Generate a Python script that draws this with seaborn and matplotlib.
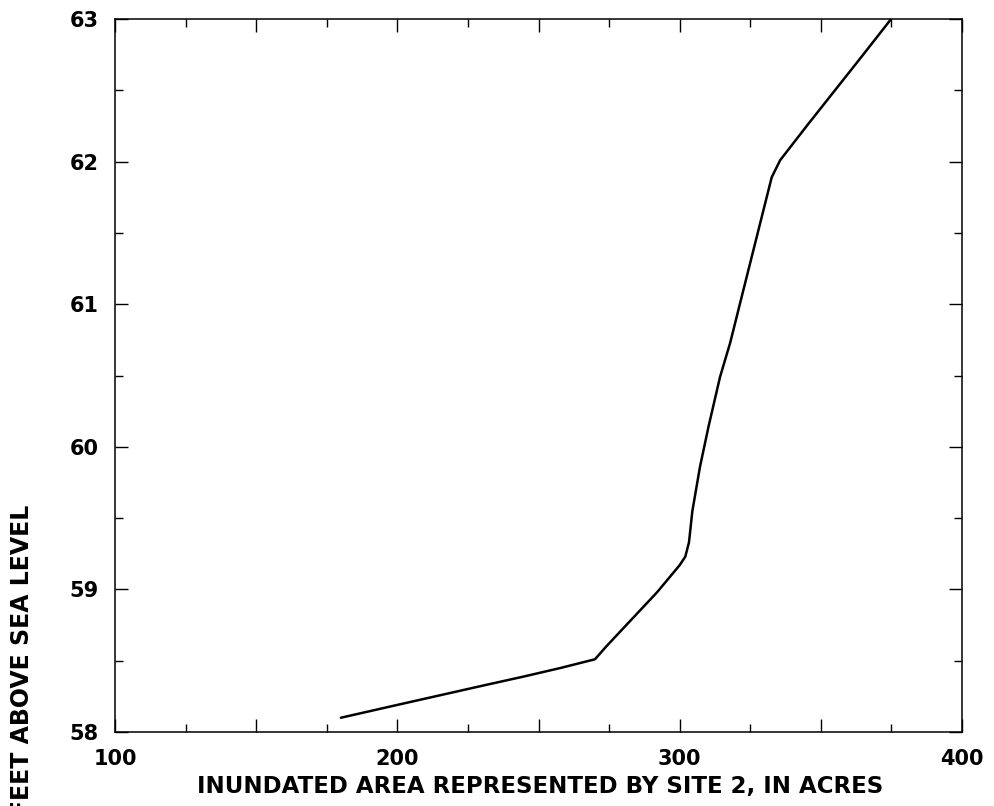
import matplotlib
matplotlib.use('Agg')
import matplotlib.pyplot as plt
import matplotlib.ticker as mticker
import seaborn as sns
import pandas as pd

# inundated area (acres) vs stage (feet above sea level)
area_acres = [180, 190, 200, 215, 230, 245, 258, 266, 270, 274, 283, 292, 300,
              302, 303.3, 304.5, 307.2, 310.2, 314.3, 317.9, 320.8, 326, 332.6,
              335.6, 345, 355, 365, 374.9]
stage_ft = [58.10, 58.145, 58.19, 58.257, 58.324, 58.39, 58.45, 58.49, 58.51, 58.6,
            58.79, 58.98, 59.17, 59.23, 59.33, 59.55, 59.86, 60.14, 60.49, 60.73,
            60.96, 61.37, 61.89, 62.01, 62.25, 62.5, 62.75, 63.0]

x_labels = [100, 200, 300, 400]
x_label = 'INUNDATED AREA REPRESENTED BY SITE 2, IN ACRES'
y_label = 'ELEVATION, IN FEET ABOVE SEA LEVEL'

df = pd.DataFrame({'area': area_acres, 'stage': stage_ft})

sns.set_style('ticks')
plt.rcParams['font.family'] = ['DejaVu Sans']
plt.rcParams['text.color'] = 'black'
plt.rcParams['xtick.color'] = 'black'
plt.rcParams['ytick.color'] = 'black'

fig = plt.figure(figsize=(9.94, 8.06), dpi=100)
ax = fig.add_axes([115 / 994, 1 - 732 / 806, (962 - 115) / 994, (732 - 19) / 806])

sns.lineplot(data=df, x='area', y='stage', sort=False, estimator=None,
             color='black', linewidth=1.8, ax=ax)

ax.set_xlim(100, 400)
ax.set_ylim(58, 63)
ax.xaxis.set_major_locator(mticker.MultipleLocator(50))
ax.xaxis.set_minor_locator(mticker.MultipleLocator(25))
ax.xaxis.set_major_formatter(mticker.FuncFormatter(
    lambda v, p: f'{int(v)}' if int(round(v)) in x_labels else ''))
ax.yaxis.set_major_locator(mticker.MultipleLocator(1))
ax.yaxis.set_minor_locator(mticker.MultipleLocator(0.5))

ax.tick_params(which='both', direction='in', top=True, right=True, width=1.0,
               color='black', labelcolor='black')
ax.tick_params(which='major', length=9.5, pad=12, labelsize=15)
ax.tick_params(which='minor', length=6)
for lab in ax.get_xticklabels() + ax.get_yticklabels():
    lab.set_fontweight('bold')

for sp in ax.spines.values():
    sp.set_linewidth(1.1)
    sp.set_color('black')

ax.set_xlabel('')
ax.set_ylabel('')
fig.text(540 / 994, 1 - 787 / 806, x_label, ha='center', va='center',
         fontsize=16.5, fontweight='bold', color='black')
# the y label is partly cut off by the left/bottom edge in the original
fig.text(22 / 994, 1 - 505 / 806, y_label, rotation=90, ha='center', va='top',
         fontsize=17, fontweight='bold', color='black')

fig.savefig('out.png', dpi=100)
